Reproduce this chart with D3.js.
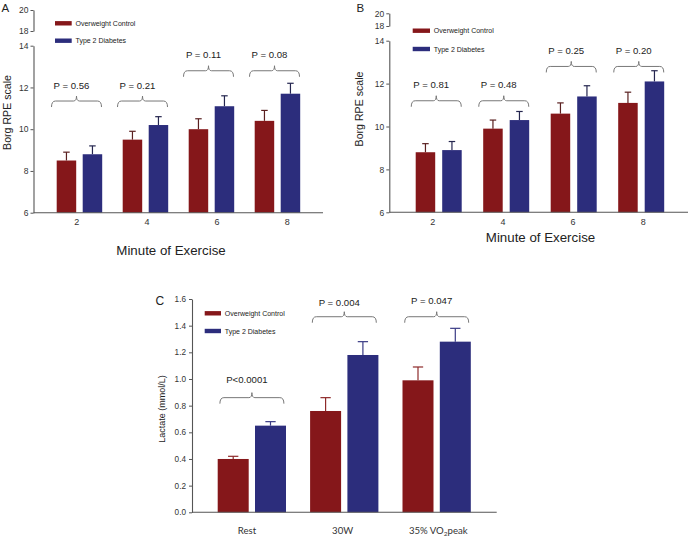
<!DOCTYPE html>
<html>
<head>
<meta charset="utf-8">
<script src="https://cdn.jsdelivr.net/npm/d3@7"></script>
<style>
  html, body { margin: 0; padding: 0; background: #fff; }
  svg { display: block; font-family: "Liberation Sans", Arial, sans-serif; }
</style>
</head>
<body>
<script>
// ---------- DATA ----------
const series = ["Overweight Control", "Type 2 Diabetes"];
const minutes = ["2", "4", "6", "8"];
const rpeTicksLow = [6, 8, 10, 12, 14];
const rpeTicksHigh = [18, 20];

// Panel A
const controlA = [8.5, 9.5, 10.0, 10.4];
const controlErrA = [0.4, 0.4, 0.5, 0.5];
const t2dA = [8.8, 10.2, 11.1, 11.7];
const t2dErrA = [0.4, 0.4, 0.5, 0.5];
const pLabelsA = ["P = 0.56", "P = 0.21", "P = 0.11", "P = 0.08"];
const bracketLevelA = [11.35, 11.35, 12.8, 12.8];

// Panel B
const controlB = [8.8, 9.9, 10.6, 11.1];
const controlErrB = [0.4, 0.4, 0.5, 0.5];
const t2dB = [8.9, 10.3, 11.4, 12.1];
const t2dErrB = [0.4, 0.4, 0.5, 0.5];
const pLabelsB = ["P = 0.81", "P = 0.48", "P = 0.25", "P = 0.20"];
const bracketLevelB = [11.2, 11.2, 12.8, 12.8];

// Panel C
const conditions = ["Rest", "30W", "35% VO2peak"];
const lactateTicks = [0, 0.2, 0.4, 0.6, 0.8, 1.0, 1.2, 1.4, 1.6];
const controlC = [0.40, 0.76, 0.99];
const controlErrC = [0.02, 0.10, 0.10];
const t2dC = [0.65, 1.18, 1.28];
const t2dErrC = [0.03, 0.10, 0.10];
const pLabelsC = ["P<0.0001", "P = 0.004", "P = 0.047"];
const bracketLevelC = [0.86, 1.467, 1.467];
const pTextLevelC = [0.97, 1.55, 1.56];

// ---------- STYLE ----------
const RED = "#85171a";
const BLUE = "#2c2d7c";
const RED_ERR = "#8e2a2a";
const BLUE_ERR = "#3a3b85";
const AXIS = "#555";
const TXT = "#222";

const svg = d3.select("body").append("svg").attr("width", 690).attr("height", 537);

function styleAxis(sel, fontSize) {
  sel.select(".domain").attr("stroke", AXIS).attr("stroke-width", 1.1);
  sel.selectAll(".tick line").attr("stroke", AXIS).attr("stroke-width", 1);
  sel.selectAll(".tick text").attr("fill", "#333").attr("font-size", fontSize)
     .attr("font-family", "'Liberation Sans', Arial, sans-serif");
}

function bracket(g, xl, xr, y) {
  const cx = (xl + xr) / 2;
  const p = d3.path();
  p.moveTo(xl, y + 6);
  p.quadraticCurveTo(xl, y, xl + 4, y);
  p.lineTo(cx - 3, y);
  p.quadraticCurveTo(cx, y, cx, y - 5);
  p.quadraticCurveTo(cx, y, cx + 3, y);
  p.lineTo(xr - 4, y);
  p.quadraticCurveTo(xr, y, xr, y + 6);
  g.append("path").attr("d", p.toString()).attr("fill", "none")
    .attr("stroke", "#777").attr("stroke-width", 1);
}

function legend(g, x, sw, y1, y2) {
  [[RED, series[0], y1], [BLUE, series[1], y2]].forEach(([c, t, yy]) => {
    g.append("rect").attr("x", x).attr("y", yy - 2.2).attr("width", sw).attr("height", 4.4).attr("fill", c);
    g.append("text").attr("x", x + sw + 3.8).attr("y", yy + 2.5).attr("font-size", 7)
      .attr("fill", TXT).text(t);
  });
}

function drawBars(g, x0, x1, y, cats, ctrl, ctrlErr, t2d, t2dErr, capW, errColors) {
  const rows = [];
  cats.forEach((c, i) => {
    rows.push({ cat: c, s: series[0], v: ctrl[i], e: ctrlErr[i], col: RED, ec: errColors[0] });
    rows.push({ cat: c, s: series[1], v: t2d[i], e: t2dErr[i], col: BLUE, ec: errColors[1] });
  });
  const y0 = y.range()[0];
  g.selectAll(null).data(rows).enter().append("line")
    .attr("x1", d => x0(d.cat) + x1(d.s) + x1.bandwidth() / 2)
    .attr("x2", d => x0(d.cat) + x1(d.s) + x1.bandwidth() / 2)
    .attr("y1", d => y(d.v)).attr("y2", d => y(d.v + d.e))
    .attr("stroke", d => d.ec).attr("stroke-width", 1.2);
  g.selectAll(null).data(rows).enter().append("line")
    .attr("x1", d => x0(d.cat) + x1(d.s) + x1.bandwidth() / 2 - capW / 2)
    .attr("x2", d => x0(d.cat) + x1(d.s) + x1.bandwidth() / 2 + capW / 2)
    .attr("y1", d => y(d.v + d.e)).attr("y2", d => y(d.v + d.e))
    .attr("stroke", d => d.ec).attr("stroke-width", 1.2);
  g.selectAll(null).data(rows).enter().append("rect")
    .attr("x", d => x0(d.cat) + x1(d.s))
    .attr("width", x1.bandwidth())
    .attr("y", d => y(d.v))
    .attr("height", d => y0 - y(d.v))
    .attr("fill", d => d.col);
}

function drawRPE(o) {
  const g = svg.append("g");
  const y = d3.scaleLinear().domain([6, 14]).range([o.y6, o.y14]);
  const yHi = d3.scaleLinear().domain([18, 20]).range([o.y18, o.y20]);
  const x0 = d3.scaleBand().domain(minutes).range(o.bandRange);
  const x1 = d3.scaleBand().domain(series).range([o.innerStart, o.innerStart + o.innerLen]).paddingInner(o.innerPad);
  const xl = d3.scalePoint().domain(minutes).range(o.labelRange);

  drawBars(g, x0, x1, y, minutes, o.ctrl, o.ctrlErr, o.t2d, o.t2dErr, 6.5, ["#5a2020", "#25264f"]);

  const fmt = d3.format("d");
  const axLow = g.append("g").attr("transform", `translate(${o.axisX},0)`)
    .call(d3.axisLeft(y).tickValues(rpeTicksLow).tickFormat(fmt).tickSize(3).tickSizeOuter(0).tickPadding(2));
  styleAxis(axLow, 8.5);
  const axHigh = g.append("g").attr("transform", `translate(${o.axisX},0)`)
    .call(d3.axisLeft(yHi).tickValues(rpeTicksHigh).tickFormat(fmt).tickSize(3).tickSizeOuter(0).tickPadding(2));
  styleAxis(axHigh, 8.5);

  g.append("line").attr("x1", o.axisX).attr("x2", o.xEnd).attr("y1", o.y6).attr("y2", o.y6)
    .attr("stroke", AXIS).attr("stroke-width", 1.1);
  const axX = g.append("g").attr("transform", `translate(0,${o.y6})`)
    .call(d3.axisBottom(xl).tickSize(0).tickPadding(o.xTickPad));
  axX.select(".domain").remove();
  styleAxis(axX, 9);

  minutes.forEach((m, i) => {
    const c = x0(m) + x0.bandwidth() / 2 - 3;
    const by = y(o.level[i]);
    bracket(g, c - 25, c + 25, by);
    g.append("text").attr("x", c - 5).attr("y", by - 12.3).attr("text-anchor", "middle")
      .attr("font-size", 9.6).attr("fill", TXT).text(o.p[i]);
  });

  legend(g, o.legX, o.legW, o.legY1, o.legY2);

  g.append("text").attr("transform", `translate(${o.yTitle[0]},${o.yTitle[1]}) rotate(-90)`)
    .attr("text-anchor", "middle").attr("font-size", 10.6).attr("fill", TXT).text("Borg RPE scale");
  g.append("text").attr("x", o.xTitle[0]).attr("y", o.xTitle[1]).attr("text-anchor", "middle")
    .attr("font-size", 13.3).attr("fill", TXT).text("Minute of Exercise");
  g.append("text").attr("x", o.letter[0]).attr("y", o.letter[1]).attr("font-size", 11.5)
    .attr("fill", TXT).text(o.letterText);
}

drawRPE({
  y6: 212.7, y14: 45.7, y18: 31, y20: 10, axisX: 33.5, xEnd: 323,
  bandRange: [46.5, 310.5], innerStart: 10.2, innerLen: 45.5, innerPad: 0.25,
  labelRange: [76.3, 286.7], xTickPad: 6,
  ctrl: controlA, ctrlErr: controlErrA, t2d: t2dA, t2dErr: t2dErrA,
  p: pLabelsA, level: bracketLevelA,
  legX: 55, legW: 16.7, legY1: 23.3, legY2: 40.7,
  yTitle: [10.5, 112.5], xTitle: [171, 254.5], letter: [1.5, 12], letterText: "A"
});

drawRPE({
  y6: 212.3, y14: 40.7, y18: 26, y20: 13.3, axisX: 389.3, xEnd: 688,
  bandRange: [405.5, 675.5], innerStart: 10.2, innerLen: 46, innerPad: 0.264,
  labelRange: [432.3, 642.7], xTickPad: 6,
  ctrl: controlB, ctrlErr: controlErrB, t2d: t2dB, t2dErr: t2dErrB,
  p: pLabelsB, level: bracketLevelB,
  legX: 412.7, legW: 17.3, legY1: 30.7, legY2: 49,
  yTitle: [363, 109], xTitle: [540.5, 242], letter: [356.5, 11.5], letterText: "B"
});

// ---------- Panel C ----------
(function () {
  const g = svg.append("g");
  const axisX = 192, xEnd = 496.7;
  const y = d3.scaleLinear().domain([0, 1.6]).range([512.3, 299]);
  const x0 = d3.scaleBand().domain(conditions).range([205.7, 482.9]);
  const x1 = d3.scaleBand().domain(series).range([12, 80.3]).paddingInner(0.169);
  const xl = d3.scalePoint().domain(conditions).range([247, 438.3]);

  drawBars(g, x0, x1, y, conditions, controlC, controlErrC, t2dC, t2dErrC, 10.3, [RED_ERR, BLUE_ERR]);

  const ay = g.append("g").attr("transform", `translate(${axisX},0)`)
    .call(d3.axisLeft(y).tickValues(lactateTicks).tickFormat(d3.format(".1f")).tickSize(3).tickSizeOuter(0).tickPadding(3));
  styleAxis(ay, 8.2);

  g.append("line").attr("x1", axisX).attr("x2", xEnd).attr("y1", y(0)).attr("y2", y(0))
    .attr("stroke", AXIS).attr("stroke-width", 1.1);

  const lab = g.selectAll(null).data(conditions).enter().append("text")
    .attr("x", d => xl(d)).attr("y", 533.5).attr("text-anchor", "middle")
    .attr("font-family", "Lato, 'Open Sans', sans-serif").attr("font-size", 9.6).attr("fill", "#333");
  lab.each(function (d) {
    const t = d3.select(this);
    const m = d.match(/^(.*VO)2(peak)$/);
    if (m) {
      t.append("tspan").text(m[1]);
      t.append("tspan").attr("font-size", 6.5).attr("dy", 2.5).text("2");
      t.append("tspan").attr("dy", -2.5).text(m[2]);
    } else {
      t.text(d);
    }
  });

  conditions.forEach((c, i) => {
    const cx = x0(c) + x0.bandwidth() / 2;
    const hw = 32;
    bracket(g, cx - hw, cx + hw, y(bracketLevelC[i]));
    g.append("text").attr("x", cx - 5).attr("y", y(pTextLevelC[i])).attr("text-anchor", "middle")
      .attr("font-size", 9.6).attr("fill", TXT).text(pLabelsC[i]);
  });

  legend(g, 204.7, 16.3, 313.3, 331);

  g.append("text").attr("transform", `translate(165,409) rotate(-90)`).attr("text-anchor", "middle")
    .attr("font-size", 9).attr("fill", TXT).text("Lactate (mmol/L)");
  g.append("text").attr("x", 155.5).attr("y", 305).attr("font-size", 12).attr("fill", TXT).text("C");
})();
</script>
</body>
</html>
